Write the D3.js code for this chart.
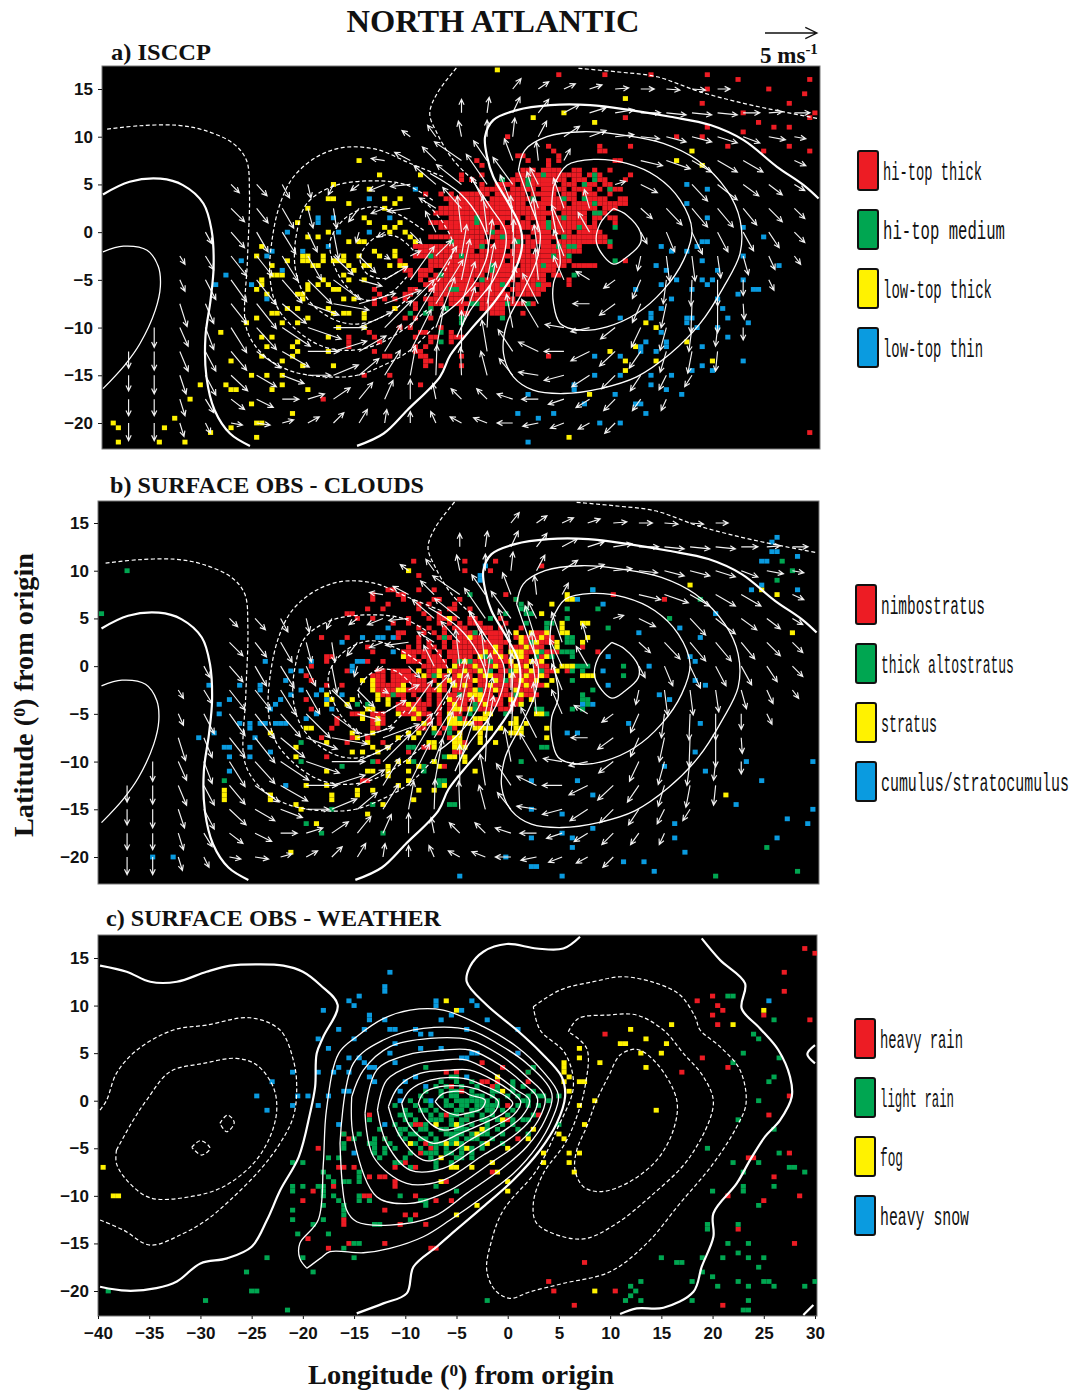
<!DOCTYPE html>
<html>
<head>
<meta charset="utf-8">
<style>
body { margin: 0; background: #fff; }
#chart { display: block; }
.tick-label { font-family: "Liberation Sans", sans-serif; font-weight: bold; font-size: 17px; fill: #111; }
.heading { font-family: "Liberation Serif", serif; font-weight: bold; fill: #111; }
.legend-text { font-family: "Liberation Mono", monospace; font-size: 25px; fill: #111; }
</style>
</head>
<body>
<svg id="chart" width="1075" height="1393"></svg>
<script src="https://d3js.org/d3.v7.min.js"></script>
<script>
// wind: [lat, [lon, u, v], ...]  m/s, tail sits on the grid point
const windRows = [
 [15, [0,.8,1],[2.5,1,.7],[5,1.1,.5],[7.5,1.2,.4],[10,1.3,.1],[12.5,1.3,0],[15,1.3,-.1],[17.5,1.3,-.1],[20,1.2,0]],
 [12.5, [-5,0,1.3],[-2.5,.2,1.5],[0,.7,1.5],[2.5,1,1.3],[5,1.5,.8],[7.5,1.6,.5],[10,1.8,.3],[12.5,1.9,0],[15,1.9,-.2],[17.5,1.9,-.2],[20,1.9,-.2],[22.5,1.6,0],[25,1.3,.1],[27.5,1.5,0]],
 [10, [-10,-.8,.6],[-7.5,-.8,1.1],[-5,-.3,1.5],[-2.5,0,1.6],[0,.2,1.8],[2.5,.8,1.5],[5,1.5,1],[7.5,1.6,.6],[10,1.8,.2],[12.5,1.8,-.2],[15,1.9,-.5],[17.5,1.9,-.5],[20,1.9,-.6],[22.5,1.6,-.6],[25,1.6,-.3],[27.5,1.1,-.2]],
 [7.5, [-12.5,-1.3,.2],[-10,-1.5,.8],[-7.5,-1.3,1.3],[-5,-2.6,1.8],[-2.5,-1.3,1.9],[0,-.8,2.1],[2.5,-.2,1.8],[5,.6,1.1],[12.5,2.1,-.5],[15,2.3,-.8],[17.5,1.9,-1.1],[20,1.9,-1.1],[22.5,1.9,-1.1],[27.5,1.1,-.5]],
 [5, [-27.5,.8,-.8],[-25,1,-1.1],[-22.5,.7,-1.3],[-20,.3,-1.3],[-17.5,-.5,-1],[-15,-.8,-.6],[-12.5,-1.5,-.6],[-10,-1.9,-.2],[-7.5,-2.1,1.8],[-5,-2.4,1.9],[-2.5,-2,2.9],[0,-1.9,2.6],[2.5,-.8,1.6],[10,1,.3],[12.5,1.6,-.8],[17.5,1.5,-1.6],[20,1.9,-1.5],[22.5,1.5,-1.1],[25,1.3,-1],[27.5,1,-.6]],
 [2.5, [-27.5,1.3,-1.3],[-25,1.1,-1.4],[-22.5,1.1,-1.9],[-20,.5,-1.9],[-17.5,.3,-1.9],[-15,-1,-1.3],[-12.5,-1.3,-.5],[-10,-2.2,-.3],[-7.5,-1.6,1],[-5,-1.8,2],[-2.5,-1.5,3],[0,-1.2,3.2],[2.5,-1.1,3.5],[5,-1,2.9],[7.5,-.5,1.8],[12.5,1.1,-1],[15,1.5,-1.6],[17.5,1.5,-1.8],[20,1.5,-1.8],[22.5,1.3,-1.6],[25,1.3,-1.3],[27.5,1,-1]],
 [0, [-30,.6,-1.1],[-27.5,1.3,-1.5],[-25,1.1,-1.9],[-22.5,1.3,-2.1],[-20,.9,-1.9],[-17.5,.5,-2.6],[-15,-.3,-1],[-12.5,-.7,-.5],[-10,1.1,-1.1],[-7.5,-1,2],[-5,-.4,3.5],[-2.5,-.4,3.5],[0,-.2,3.5],[2.5,-.5,3.3],[5,-1.2,2.6],[7.5,-1.1,1.9],[12.5,.6,-1.1],[15,.8,-1.9],[17.5,1,-2.1],[20,1,-1.9],[22.5,1,-1.8],[25,1,-1.5],[27.5,1,-1]],
 [-2.5, [-32.5,.5,-.8],[-30,.8,-1.3],[-27.5,1.5,-1.9],[-25,1.5,-1.9],[-22.5,1.5,-2.4],[-20,1.3,-2.3],[-17.5,1.9,-1.8],[-15,1.6,-1.6],[-12.5,.5,-.3],[-10,1,.5],[-7.5,1.5,1.5],[-5,.5,3],[-2.5,.5,3.5],[0,.1,3.5],[2.5,-.4,3],[5,-1,2.5],[12.5,-.3,-1.4],[15,.3,-2.4],[17.5,.3,-2.4],[20,.3,-2.1],[22.5,.5,-1.8],[25,.6,-1.3],[27.5,.6,-.8]],
 [-5, [-32.5,.5,-1.1],[-30,1,-1.9],[-27.5,1.5,-2.1],[-25,1.9,-2.4],[-22.5,1.9,-2.2],[-20,2.3,-2.3],[-17.5,2.6,-1.9],[-15,2.2,-.6],[-12.5,2.2,1.3],[-10,2.3,3.2],[-7.5,2,3.2],[-5,.8,3.9],[-2.5,.7,3.5],[0,.2,4],[2.5,-.3,3],[5,-1,2.3],[7.5,-1.3,.8],[10,-1.1,-.8],[12.5,-.8,-1.8],[15,-.3,-2.3],[17.5,-.1,-2.5],[20,0,-2.5],[22.5,0,-1.5],[25,.5,-1]],
 [-7.5, [-32.5,.7,-2.2],[-30,.8,-1.9],[-27.5,1.5,-1.9],[-25,1.9,-2.4],[-22.5,2.3,-1.9],[-20,3,-1.1],[-17.5,3.4,-.6],[-15,3.5,1],[-12.5,3.5,1.3],[-10,2.3,2.3],[-7.5,2.6,4.2],[-5,1.3,4],[-2.5,.8,4],[0,.2,3.5],[2.5,-1.5,2.9],[7.5,-1.6,0],[10,-1.5,-1.1],[12.5,-.8,-1.8],[15,-.5,-2.3],[17.5,-.1,-2.8],[20,0,-2.8],[22.5,.1,-1.5]],
 [-10, [-35,0,-1.9],[-32.5,.8,-1.8],[-30,.8,-2.1],[-27.5,1.5,-2.4],[-25,1.9,-2.1],[-22.5,2.7,-1.8],[-20,3.2,-1.1],[-17.5,3.2,0],[-15,3.2,1.5],[-12.5,2.6,2.6],[-10,2.3,3.9],[-7.5,1.8,4.8],[-5,1.3,3.9],[-2.5,.2,4],[0,-.6,3.2],[2.5,-1.6,2.7],[5,-1.8,.3],[7.5,-1.8,-.4],[10,-1.4,-1.1],[12.5,-.9,-1.9],[15,-.6,-2.2],[17.5,-.3,-2.3],[20,-.2,-1.8],[22.5,0,-1.2]],
 [-12.5, [-37.5,0,-1.6],[-35,0,-1.8],[-32.5,.8,-1.9],[-30,1,-1.9],[-27.5,1.5,-1.8],[-25,2.3,-1.6],[-22.5,2.6,-1.5],[-20,3,0],[-17.5,3.2,1],[-15,2.6,1.5],[-12.5,1.6,2.6],[-10,2,4],[-7.5,.8,4.5],[-5,0,3.9],[-2.5,-.5,3],[0,-1.4,2.1],[2.5,-1.9,.9],[5,-1.9,0],[7.5,-1.8,-.9],[10,-1.5,-1.4],[12.5,-1.1,-1.6],[15,-.6,-2],[17.5,-.4,-2.1],[20,-.2,-1.9]],
 [-15, [-37.5,0,-1.5],[-35,0,-1.8],[-32.5,.6,-1.8],[-30,1,-1.9],[-27.5,1.6,-1.5],[-25,1.9,-1.1],[-22.5,2.1,-.8],[-20,2.2,0],[-17.5,2.4,1],[-15,1.9,1.6],[-12.5,1.5,2.4],[-10,.5,2.7],[-7.5,.1,2.9],[-5,-.1,2.7],[-2.5,-.6,2.3],[0,-1.3,1.6],[2.5,-1.9,.3],[5,-1.9,-.5],[7.5,-1.7,-1.1],[10,-1.3,-1.3],[12.5,-1,-1.5],[15,-.7,-1.4],[17.5,-.7,-1.1]],
 [-17.5, [-37.5,0,-1.6],[-35,0,-1.6],[-32.5,.5,-1.6],[-30,.8,-1.3],[-27.5,1.3,-1],[-25,1.6,-.8],[-22.5,1.6,0],[-20,1.6,.5],[-17.5,1.6,1.1],[-15,1.3,1.6],[-12.5,.8,1.8],[-10,0,1.9],[-7.5,-.3,1.5],[-5,-1,1],[-2.5,-1,1],[0,-1.5,.5],[2.5,-1.6,0],[5,-1.5,-.5],[7.5,-1.3,-.8],[10,-1.1,-1.1],[12.5,-.8,-1.1],[15,-.5,-1.1]],
 [-20, [-37.5,0,-1.7],[-35,0,-1.7],[-32.5,.4,-1.3],[-30,.5,-1],[-27.5,1.1,-.2],[-25,1.3,-.2],[-22.5,1.1,.3],[-20,1.1,.6],[-17.5,1,1],[-15,.8,1.3],[-12.5,.2,1.3],[-10,0,1.1],[-7.5,-.5,1.1],[-5,-1.1,.6],[-2.5,-1.3,.5],[0,-1.5,0],[2.5,-1.5,-.3],[5,-1.3,-.5],[7.5,-1.1,-.6],[10,-1,-1]]
];

// contours for a) and b): [lon, lat]
const upperThick = [
 [[-40,3.95],[-37.4,5.28],[-34.4,5.6],[-32.2,4.93],[-30.2,3],[-29.4,.2],[-29.2,-3.63],[-29.5,-7.13],[-30,-10.97],[-29.9,-15.16],[-29.1,-18.66],[-27.6,-21.1],[-25.65,-22.4]],
 [[-15.2,-22.4],[-12.6,-21.1],[-10.3,-18.66],[-7.1,-15.16],[-6.1,-12.9],[-4.15,-10.27],[-1.9,-7.48],[.07,-4.33],[.9,-1.54],[.73,.56],[-.4,3],[-1.9,5.8],[-2.5,7.9],[-2.7,10],[-1.9,11.74],[.4,12.79],[3.66,13.31],[7.56,13.31],[11.47,12.79],[15.4,12.09],[19.3,11.22],[22.54,9.64],[25.8,6.85],[28.4,4.93],[29.86,3.53]]
];
const upperThin = [
 [[-40,-2.06],[-38,-1.47],[-35.7,-1.9],[-34.6,-3.6],[-34.4,-5.7],[-34.9,-8.2],[-36.4,-11.7],[-37.85,-13.9],[-40,-16.4]],
 [[.56,6.5],[1.2,8.6],[3.33,10],[6.9,10.52],[10.8,10.17],[14.7,9.3],[18,7.55],[20.9,4.4],[22.2,1.26],[22.2,-2.2],[20.6,-5.73],[18.3,-9.57],[15.4,-12.72],[12.1,-15.16],[8.54,-16.39],[4.96,-16.91],[2,-16.56],[.07,-15.16],[-.9,-12.72],[-.57,-9.57],[1.05,-6.08],[2.35,-2.93],[2.68,-.14],[1.7,3],[.56,6.5]],
 [[3.98,4.75],[5.3,7],[7.9,7.62],[11.14,7.2],[14.07,5.8],[16.35,3.35],[17.5,.2],[16.68,-2.93],[14.7,-6.08],[12.1,-8.53],[9.2,-9.92],[6.6,-10.27],[4.63,-9.57],[3.98,-7.48],[3.98,-5.38],[4.63,-3.28],[4.3,-.49],[3.82,2.66],[3.98,4.75]],
 [[9.84,2.48],[8.54,.91],[8.2,-1.19],[9.84,-3.35],[11.14,-2.6],[12.45,-1.19],[12.45,.03],[11.14,1.78],[9.84,2.48]],
 [[-8.06,6.15],[-5.13,4.05],[-3.18,1.26],[-2.37,-1.54],[-3.18,-4.33],[-5.13,-7.13],[-7.1,-8.9]],
 [[-4.15,5.8],[-2.2,2.66],[-.74,.2],[-.74,-1.9],[-1.88,-5],[-4.15,-8.2],[-5.46,-11]]
];
const upperDashed = [
 [[-39.6,10.8],[-36.4,11.15],[-32.8,11.2],[-30.2,10.7],[-27.3,9.3],[-26,7.55],[-25.7,4.05],[-25.9,-2.93],[-26.1,-9.57],[-25.3,-11.67],[-23.7,-13.42],[-21.4,-14.64],[-18.2,-15.16],[-15.2,-15],[-12.6,-13.94],[-10,-12.37],[-7.7,-9.92]],
 [[-5.5,17.2],[-7.4,14.5],[-8.1,12.4],[-7.4,10.4],[-5.8,7.55],[-3.5,5.1]],
 [[6.42,17.16],[10.17,16.8],[14.07,16.28],[18.3,14.7],[22.54,13.5],[26.44,12.6],[29.86,11.9]],
 [[-6.8,5.8],[-10,7.2],[-13.3,8.67],[-16.5,8.88],[-19.1,7.9],[-21.4,5.8],[-22.7,3],[-23.5,-.84],[-23.7,-4.68],[-23,-7.83],[-21.1,-10.27],[-18.5,-12],[-15.6,-12.37],[-13,-11.67],[-10.3,-9.92],[-8.4,-8.18]],
 [[-7.8,3.35],[-10.35,4.93],[-13.6,5.38],[-17.5,4.82],[-20.1,3],[-21.1,-.14],[-21.25,-3.63],[-20.4,-6.43],[-18.5,-8.53],[-16.2,-9.57],[-13.9,-9.4],[-11.65,-8.18],[-9.7,-6.43]],
 [[-8.7,.2],[-11,1.78],[-13.6,2.66],[-16.2,1.6],[-17.8,-.84],[-17.5,-3.28],[-16.2,-5.73],[-14.3,-7.13],[-12,-6.43],[-10.35,-4.68]],
 [[-9.7,-1.9],[-11.3,-.49],[-13.3,-.49],[-14.9,-2.6],[-14.25,-4.33],[-12.6,-4.86],[-11,-4]],
 [[-8.7,3.35],[-6.76,.9],[-5.8,-1.54],[-6.76,-4.33],[-8.7,-6.78]]
];

// contours for c)
const weatherThick = [
 [[-39.8,14.2],[-37.2,13.56],[-34.9,12.5],[-32.3,12.5],[-29.4,13.56],[-27.1,14.2],[-24.5,14.33],[-21.9,14.2],[-20,13.56],[-18.3,12.16],[-16.6,10.06],[-18,6.73],[-18.65,4.97],[-18.8,1.47],[-19.3,-1.33],[-20.4,-5.9],[-22.2,-9.39],[-23.5,-12.54],[-25,-15.35],[-27.4,-16.57],[-30,-17.1],[-32.3,-19],[-34.3,-19.7],[-37.2,-19.97],[-39.8,-19.55]],
 [[7.06,17.24],[5.43,16],[2.83,16],[-.1,16.47],[-2.38,15.66],[-3.68,14.1],[-4,12.5],[-2.05,10.06],[.88,7.43],[3.16,5.15],[5.27,2.52],[5.6,.42],[4.78,-2.38],[3.16,-5.18],[.55,-8.34],[-2.38,-11.14],[-5.63,-14.12],[-6.93,-15.35],[-9.2,-17.45],[-9.86,-20.25],[-12.14,-21.3],[-14.74,-22.35]],
 [[18.94,17.06],[20.73,14.79],[23.17,12.33],[22.84,9.71],[24.63,7.6],[26.42,5.33],[27.56,2.52],[27.73,.42],[26.59,-2.03],[25.12,-3.78],[23.66,-6.24],[22.36,-8.69],[20.08,-11.84],[20.08,-14.3],[18.94,-17.45],[18.13,-20.08],[15.2,-21.76],[12.6,-21.83],[10.97,-22.42]],
 [[30,5.85],[29.25,4.9],[30,3.92]],
 [[28.86,-22.53],[29.84,-21.48]]
];
const weatherThin = [
 [[-19.6,-17.62],[-20.3,-16.57],[-20.3,-15],[-18.5,-12.54],[-18,-6.6],[-17.7,-.98],[-16.5,4.97],[-14.75,6.73],[-12.1,8.65],[-9.54,9.53],[-6.3,9.53],[-2.38,7.78],[.88,5.68],[3.32,3.22],[4.95,.6],[4.3,-2.03],[2.83,-4.84],[.55,-7.64],[-2.38,-10.09],[-5.63,-12.54],[-8.24,-14.3],[-11.5,-15.52],[-14.1,-15.98],[-17.35,-15.87],[-18.3,-16.57],[-19.6,-17.62]],
 [[-16.37,-4.48],[-15.07,3.92],[-12.14,6.38],[-8.23,7.6],[-3.68,7.43],[-.75,5.85],[1.86,3.92],[4.3,.77],[3.64,-2.03],[1.86,-4.84],[-.75,-7.29],[-4,-9.74],[-7.26,-12.19],[-11.49,-13.07],[-14.74,-12.72],[-15.72,-11.49],[-16.37,-4.48]],
 [[-15.23,.42],[-15.07,-3.78],[-12.79,-10.09],[-9.53,-10.79],[-5.63,-9.39],[-1.72,-6.59],[1.04,-4.48],[3,-2.03],[3.64,.42],[1.86,2.52],[-.75,4.8],[-3.68,6.38],[-7.58,6.55],[-11.49,5.68],[-14.09,3.22],[-15.23,.42]],
 [[-13.93,-1.33],[-13.11,-5.89],[-9.86,-8.69],[-6.28,-8.34],[-2.38,-5.71],[.23,-3.96],[2.18,-2.03],[2.9,.25],[1.53,1.82],[-.75,3.75],[-3.68,5.33],[-6.28,5.33],[-9.86,4.8],[-12.79,3.22],[-13.93,-1.33]],
 [[-12.72,-.98],[-11.81,-4.48],[-9.53,-7.29],[-6.28,-7.11],[-3.35,-5.19],[-.75,-3.43],[1.37,-1.68],[2.12,.07],[.88,1.12],[-1.4,2.87],[-4,4.27],[-6.28,4.27],[-9.21,3.75],[-11.81,2.17],[-12.72,-.98]],
 [[-11.65,-.63],[-10.51,-3.78],[-8.23,-6.24],[-6.28,-5.89],[-3.68,-4.13],[-1.4,-2.73],[.55,-1.51],[1.27,-.1],[.55,.77],[-1.4,2.17],[-3.68,3.22],[-5.63,3.22],[-8.56,2.87],[-10.67,1.47],[-11.65,-.63]],
 [[-10.35,-.28],[-9.53,-2.73],[-7.26,-4.48],[-4.65,-3.43],[-2.38,-2.38],[-.42,-1.33],[.49,-.28],[-.1,.42],[-2.05,1.47],[-4.33,2.35],[-7.58,2.17],[-9.53,1.12],[-10.35,-.28]],
 [[-8.72,-.28],[-7.91,-2.03],[-6.28,-3.08],[-3.35,-2.21],[-1.4,-1.33],[-.91,-.1],[-2.05,.77],[-4,1.47],[-6.61,1.47],[-8.23,.77],[-8.72,-.28]],
 [[-7.09,-.1],[-6.28,-.98],[-4.98,-1.51],[-4,-1.33],[-2.54,-.81],[-2.21,.07],[-3.68,.6],[-4.33,.95],[-6.28,.77],[-7.09,-.1]]
];
const weatherDashed = [
 [[-39.8,-.98],[-39.15,.07],[-38.2,2.87],[-36.2,5.33],[-32.65,7.43],[-29.4,7.95],[-25.16,8.72],[-22.23,7.43],[-20.93,4.27],[-20.6,1.47],[-20.93,-1.68],[-22.23,-4.48],[-24.2,-7.29],[-27.1,-10.44],[-29.4,-12.54],[-31.67,-13.95],[-34.92,-15.17],[-37.5,-13.6],[-39.8,-12.54]],
 [[-38.2,-5.19],[-36.55,-2.03],[-35.25,.07],[-32.97,3.05],[-29.7,3.92],[-26.46,4.45],[-24.5,3.75],[-22.9,1.47],[-22.55,-.98],[-23.2,-3.78],[-24.83,-6.59],[-27.76,-9.04],[-31,-10.09],[-34.92,-10.2],[-37.2,-8.34],[-38.2,-6.59],[-38.2,-5.19]],
 [[-30.85,-4.9],[-30,-4.2],[-29.06,-5],[-29.88,-5.71],[-30.85,-4.9]],
 [[-28.1,-2.38],[-27.37,-1.51],[-26.7,-2.3],[-27.44,-3.26],[-28.1,-2.38]],
 [[2.5,9.88],[5.11,11.63],[8.36,12.51],[11.29,13.03],[14.55,12.33],[16.82,11.11],[18.29,8.83],[18.78,7.43],[20.73,5.68],[22.68,3.22],[23.27,-.28],[22.36,-2.73],[20.08,-6.59],[16.82,-10.79],[13.57,-15],[9.99,-17.98],[5.43,-19.2],[2.18,-20.08],[.23,-20.78],[-1.24,-19.9],[-2.05,-17.8],[-1.56,-14.65],[-.42,-11.49],[2.83,-7.29],[4.78,-3.08],[6.41,1.47],[5.6,4.98],[3.16,7.43],[2.5,9.88]],
 [[5.92,7.25],[6.9,8.65],[9.67,9],[12.6,9],[15.2,7.43],[17.15,4.98],[19.1,2.52],[20.08,-.28],[17.8,-5.89],[13.9,-10.09],[10.64,-12.89],[7.71,-14.47],[5.43,-14.3],[2.83,-12.89],[2.5,-10.79],[3.48,-7.64],[5.6,-4.48],[6.74,-1.68],[7.55,1.47],[7.71,5.5],[5.92,7.25]],
 [[9.99,2.87],[10.97,4.8],[12.6,5.4],[14.55,3.92],[16.5,.07],[16.17,-3.08],[14.55,-6.24],[11.62,-8.69],[9.01,-9.56],[7.39,-9.04],[6.57,-7.29],[6.74,-5.19],[7.71,-2.73],[8.69,.07],[9.99,2.87]]
];

// cloud/weather cells: [lat, lon or [fromLon, toLon], ...]  on a half degree grid
const isccpRed = [
 [16.5,4.5,9,13.5,19],[16,22,29],[15,19,25],[14.5,28.5],[13.5,18.5,27],[12.5,22.5,29.5],[12,11,29],[11.5,24],[11,19,25.5,27],[10.5,22.5],[10,-.5,16,18.5],
 [9,3.5,8.5,11.5,21,27],[8.5,4,8.5,9,24.5,29],[8,.5,1,4.5],[7.5,1.5,3.5,4.5,10,10.5,-3.5],[7,3.5,-3],[6.5,[1,2],[3,4.5],[6,6.5],8,9.5],
 [6,[.5,5],[5.5,6.5],7.5,8.5,11.5,-5,-3],[5.5,[0,1],[2,5],[6,7],[8.5,9],11,-5,-4],[5,[-1.5,0],[1,4],[5,6],[7,8],[9,9.5],-3],
 [4.5,[-3,-1],[0,2],[3,5],[6,7.5],8.5,[9.5,10.5]],[4,-8.5,-7,-6,-5,[-4.5,-2.5],[-1.5,1],[2,4],[5,6],[7,8],9.5],[3.5,[-6.5,-3],[-2,2],[3,6],[7,9],[10.5,11]],
 [3,[-6,-4],[-3.5,1],[2,5],[6,7.5],[8.5,9.5],[10,11]],[2.5,[-7,-6.5],[-6,-2.5],[-2,0],[.5,3],[4,6],[6.5,8],[9,10]],[2,[-7.5,-6.5],[-6,-3],[-2.5,1],[1.5,4],[5,7],[8,9]],
 [1.5,[-6,-2],[-1.5,.5],[1.5,3],[4,6],[6.5,7],[8,8.5],[9.5,10]],[1,[-8,-7.5],[-7,-3.5],[-3,-1],[0,1.5],[2.5,5],[5.5,7],8,10],[.5,[-7,-2],[-1,1],[1.5,3],[3.5,6],[7,8]],
 [0,[-6,-4],[-3.5,-1.5],[-1,.5],[2,3.5],[4.5,5.5],[6.5,8.5]],[-.5,[-8,-7.5],[-7,-3],[-2,0],[.5,1.5],[2.5,4],[5,6.5],[7,9]],[-1,[-6,-4.5],[-4,-2.5],[-1.5,.5],[1.5,3.5],[4.5,7],[7.5,9]],
 [-1.5,[-9.5,-8],[-7.5,-3],[-2,-.5],[.5,2],[3,4.5],[5,6.5],9.5],[-2,[-9,-7],[-6.5,-4],[-3,-1],[0,1.5],[2.5,5],[5.5,6.5]],[-2.5,[-9.5,-8.5],[-7.5,-2],[-1.5,.5],[1,3],[3.5,5]],
 [-3,-11,[-8,-7],[-6.5,-4.5],[-4,-1],[0,1.5],[2,4],[4.5,5.5],11],[-3.5,[-11,-10.5],[-8,-3],[-2.5,0],[1,3],[3.5,5],[6,7.5],8],[-4,[-10.5,-10],[-9,-8],[-6.5,-4],[-3.5,-1.5],[-1,1],[1.5,4]],
 [-4.5,-10,[-9,-8.5],[-7.5,-3],[-2,.5],[1,3],[4,4.5]],[-5,-9,[-8,-4],[-3,0],[1,2],[2.5,3],5.5],[-5.5,[-8.5,-7],[-6.5,-3.5],[-3,-.5],[.5,2],[3,3.5],5.5],
 [-6,-13.5,[-10,-9.5],[-8,-6.5],[-6,-4],[-3,-1],[0,1.5],[2,3]],[-6.5,-13,[-10.5,-10],[-7.5,-3.5],[-3,-.5],[.5,1.5],[2,2.5]],[-7,-13.5,-12.5,-11.5,-10.5,[-8.5,-7],[-6,-5],[-4,-1],[-.5,0]],
 [-7.5,-13.5,-9.5,[-8,-7],[-6,-4],[-3,-1],[0,.5],[1,2]],[-8,-11.5,-9.5,-8,-5,[-3,-1]],[-8.5,[-5,-4.5],[-2,-1],1],[-9,-10.5,-9.5,-8],[-10,-11,-10,-7],
 [-10.5,-14,-9,-8.5,-6],[-11,-16,-13.5,-9.5,[-8,-7.5],[-6,-5]],[-11.5,-16,-13,-8,-6],[-12,-16,-9.5,-8.5],[-12.5,-13.5,-9.5,-9],[-13,[-12.5,-12],-9,-8.5,-5,3.5],[-13.5,-8.5,-8],[-14,-8.5,-7,-5],
 [-15,-14.5,-12],[-16,-9],[-17.5,-18.5],[-21,29]
];
const isccpGreen = [
 [6,3,8],[5.5,-1,1.5,8],[5,1.5,7],[4.5,9.5],[3.5,2,5,7],[3,8],[2,8,8.5],[1.5,-3.5,5],[1,-3.5,3.5],[.5,3.5,6.5,10],[0,-2],[-.5,-1,5],[-1,-6,.5,9.5],[-1.5,-3,4.5,5.5,6],
 [-2.5,-8,-5,4,5.5],[-3,10],[-3.5,-2,3],[-4,-2],[-4.5,-7,6],[-5,-3],[-5.5,-1,2.5],[-6,-6,-5.5],[-7.5,-4,-3.5,-.5,1.5],[-8,-8,-6.5],[-8.5,-10,-8.5],[-9,-5,-1],[-9.5,-5],[-10.5,-7],[-11.5,-7]
];
const isccpYellow = [
 [17,-1.5],[14,11],[12.5,5],[12,2],[11.5,8],[8.5,17.5],[7.5,-15,16],[7,18.5],[6,-13,-9],[5,-17.5],[4.5,-14],[3.5,-18,-17.5,-12.5,-11],[3,-16,-11.5],[2.5,-12.5,-20],[1.5,-14.5],[1,-21,-14,-11],
 [.5,-12.5,-11.5],[0,-12,-18,-10.5],[-.5,-19,-20,-10],[-1,-9.5,-16,-15,-14.5],[-1.5,-24.5],[-2,-13.5,-11.5],[-2.5,-25,-20.5,-20,-18.5,-16.5,-15,-13,-11.5],[-3,-22,-20.5,-20,-18.5,-17.5,-17,-16.5],
 [-3.5,-23.5,-19.5,-19,-16,-14.5,-14,-12,-11,-10.5],[-4,-15.5],[-4.5,-23.5,-23,-22.5,-16.5],[-5,-24.5,-18.5,-16,-14.5],[-5.5,-24.5,-20,-19,-18],[-6,-25,-20,-17.5,-17],[-6.5,-24,-20.5,-21],[-7,-20.5,-16.5,-15.5],
 [-8,-22,-21,-18,-11.5],[-8.5,-23.5,-23,-17.5,-16.5,-16,-14.5],[-9,-14.5,-25,-20],[-9.5,-26,-22.5,-21,13],[-10,-14.5,-17,14],[-10.5,-28.5],[-11,-23.5,-24.5,-18],[-11.5,-21,17],[-12,-21.5,-24,12],[-12.5,-18,-21,9.5],
 [-13,-24.5,-21.5],[-13.5,-27.5,-22.5,14,11,19.5],[-14,-20.5,-17.5],[-14.5,11],[-15,-25.5,-24,-22.5],[-16,-30.5,-28,-22.5],[-16.5,-27.5,-27,-23.5,-20],[-17,7.5],[-17.5,-31.5],[-18,-25.5],[-19,-21.5],[-19.5,-33],
 [-20,-39,-25,-24.5],[-20.5,-38.5,-34,-27.5],[-21,-29.5],[-21.5,-25,5.5],[-22,-38.5,-34.5,-32]
];
const isccpBlue = [
 [5,17],[4.5,-9.5,19],[3.5,-14],[3,17],[1.5,-12,-19,-17.5,19],[1,-19],[.5,22.5],[0,-22,-17,-14],[-.5,24.5],[-1,18.5,19],[-1.5,-18,14.5,18],[-2,-20.5,-23.5,15.5,17],[-2.5,-24,22.5],[-3,-26.5,18.5],[-3.5,26,14],
 [-4,-22.5,20,15],[-4.5,-28],[-5,16,18.5,19.5,22.5],[-5.5,-29,-25.5,14.5,19],[-6,12,17.5,23.5,24],[-6.5,22],[-7,-24,15.5,20],[-8,14.5,20.5],[-8.5,13.5],[-9,13.5,17,17.5,21,10.5],[-9.5,17,23],[-10,20,18],
 [-10.5,14.5],[-11,21],[-11.5,15,13],[-12,15,12.5,18.5],[-12.5,14,12.5],[-13,10.5,8],[-13.5,22.5],[-14,18.5],[-14.5,17.5,19.5],[-15,10.5,8,15.5,13.5],[-16,13.5,6],[-16.5,15,6],[-17,16.5,10,1.5],[-18,7,12,12.5],
 [-19,.5,4,13],[-19.5,2.5],[-20,8.5,10.5],[-22,1.5]
];

const cloudRed = [
 // west of about -6
 [11,-9.5],[9.5,-9],[8,-12,-11.5,-9,-7.5],[7.5,-13.5,-11,-10.5],[7,-13.5,-10.5,-7.5,-7],[6.5,-12,-9,-8],[6,-14,-12.5,-9,-6],[5.5,-16,-15.5,-8.5,-7],[5,-15,-13.5,-10,-8,-7,-6.5],[4.5,-11.5,-10,-7,-6],[4,-9,-8,-6.5],
 [3.5,-11,-10.5,-8.5,-7.5,-6.5],[3,-18.5,-16,-11,-9,-7,-6],[2.5,-9,-8,-6.5],[2,-14,-10,-9,[-8,-7.5],-6.5],[1.5,-13.5,[-10.5,-8],-7,-6],[1,-18,-17.5,[-10,-9.5],[-8.5,-7],-6],[.5,-18,-14,-12.5,-10,-9.5,-9,[-8,-7],-6.5],[0,-19.5,[-8.5,-7],-6.5],
 [-.5,-16,[-13,-12.5],[-11.5,-10],-9,[-8,-7],-6],[-1,-20,[-13.5,-12.5],[-11.5,-9.5],-8,[-7.5,-6.5]],[-1.5,-19.5,[-13.5,-12.5],[-11.5,-10],[-9.5,-8.5],-7.5,-6.5],[-2,-18,-16.5,[-13.5,-11.5],[-11,-10.5],[-9.5,-8],-6.5],[-2.5,[-13,-12.5],[-12,-11.5],[-10,-9.5],[-9,-7.5],-6.5],
 [-3,-12.5,[-12,-10.5],-9.5,-8,-7,-6],[-3.5,-20,-10.5,-9,-8,-7,-6],[-4,[-11,-8],-7,-6],[-4.5,-19.5,[-11,-8.5],-7,-6],[-5,-15.5,-15,-13.5,-13,-12.5,[-10.5,-8],-7,-6],[-5.5,-17,-13.5,-13,-12.5,-9,-8,-7,-6],[-6,-17,-13.5,-12.5,-8,-7],[-6.5,-17.5,-13.5,-13,-9,-8.5,-6.5],[-7,-7,-6],[-7.5,-18.5,-15.5,-14,-6],[-8,-16,-12.5],[-8.5,-8.5,-8],[-9,-10],[-9.5,-18],[-10,-13],[-10.5,-8.5,-6.5],[-12,-14.5,-14],
 // east of it
 [11,-4.5,-1.5],[10.5,3],[10,-4.5,-2],[7.5,-.5,10],[7,-5,.5,15],[6.5,-5.5],[6,-5.5,-4],[5,-5.5,-4,-3.5,-1],[4.5,-5,[-4,-3],-.5],[4,-5.5,[-5,-4.5],[-3,-2],-1,1],[3.5,[-5,-3.5],[-2.5,-1],.5,[2.5,3.5]],[3,[-5,-3],[-2,-1],[.5,1.5],[2,4]],[2.5,-5.5,[-5,-3.5],[-3,-1.5],[-1,-.5],[1,2],[3,4]],[2,[-5.5,-4],[-3.5,-1],[0,1],[2,3],7],
 [1.5,[-5.5,-3],[-2.5,-1],[1,2.5],[3,4.5],8.5],[1,[-5.5,-4],[-3,-.5],[.5,1.5],[2.5,3.5]],[.5,[-5.5,-4.5],[-4,-2.5],[-2,0],[1,3]],[0,[-5.5,-3.5],[-3,-1],[0,1.5],[2.5,3.5]],[-.5,[-5.5,-5],[-4,-2],[-1,.5],[1,2.5],[3,4],5.5],[-1,[-5.5,-4],[-3,-1],[0,1],[2,3.5]],[-1.5,[-5.5,-4.5],[-4,-2.5],[-1.5,0],[.5,2.5]],[-2,[-5.5,-4],[-3,-1],[-.5,1],[1.5,3]],
 [-2.5,[-5.5,-3],[-2.5,-.5],[.5,2]],[-3,[-5.5,-4.5],[-4,-2],[-1,.5],[1.5,2.5]],[-3.5,[-5.5,-3.5],[-3,-1],[0,1]],[-4,[-5.5,-4.5],[-3.5,-1],[0,.5]],[-4.5,[-5.5,-4],[-3,-2],[-1,0]],[-5,[-5.5,-5]],[-5.5,[-5.5,-4.5],[-3,-2.5]],[-6,[-5.5,-5],[-3.5,-3]],[-6.5,-5.5],[-7,-5,-3,.5],[-8,-5.5,-5,-4.5],[-9,-5.5,-5]
];
const cloudGreen = [
 [11,26.5],[10,-37.5,27.5],[9,26],[8,8],[7.5,-4],[7,18.5,.5],[6.5,1],[6,1,1.5,5.5,8.5],[5.5,-40,-.5,1.5,2],[5,-2,5.5,15.5],[4.5,1.5,3.5,4],[4,3.5,9.5],[3.5,-3.5],[3,-6.5,5.5,6],[2.5,2,5.5,6],[2,4.5],[1.5,3,5,5.5,6],[1,2.5,4,6,-2.5],[.5,-4,-5,-2],[0,6,6.5,7,7.5,11,-5.5],
 [-.5,-3,-2,0,3,6,7],[-1,-7.5,11],[-1.5,-1.5,-.5,6],[-2.5,-3,8],[-3,-11.5,-5,.5,7],[-3.5,7,7.5],[-4,-15,-14,1,-3.5,7.5],[-4.5,-3.5,6,7,2.5,3],[-5,-4,-.5,3,3.5],[-5.5,-5],[-6.5,-6,-2,1],[-7,-7.5,-6],[-8,-20.5],[-8.5,-9.5,-10,3,3.5],[-9.5,-6.5,-6],[-10,-20.5,-7.5,-13.5,-9.5,1],[-10.5,-16.5,-8.5],[-11,-8.5],[-12,-28,-7,-6.5],[-12.5,-7],[-14.5,-13.5,-6,-5.5],[-15,-17.5],[-16.5,-20],[-17.5,-18.5,-12.5],[-19,25],[-21.5,28],[-22,20]
];
const cloudYellow = [
 // west
 [10,-10],[5,-6],[1,-10.5],[-.5,-9,-7],[-1,-8.5,-7],[-1.5,-14.5,-13.5],[-2,-13.5,-10.5,-7],[-2.5,-13.5,-11,-10.5,-7],[-3,-18,-13],[-3.5,-17.5,-15.5,-13,-12],[-4,-18,-16,-12,-10],[-4.5,-14,-13.5,-9.5],[-5,-14.5,-11,-9],[-5.5,-14.5,-13,-9.5],[-6,-13,-8.5],[-6.5,-20,-19.5,-7.5],
 [-7,-23.5,-15.5,-13.5,-10,-9],[-7.5,-15,-11,-9.5],[-8,-18,-14,-8,-7.5],[-8.5,-21,-13.5,-12,-7.5],[-9,-15.5,-14.5,-13],[-9.5,-21],[-10,-11,-10,-7.5],[-10.5,-12,-9,-7],[-11,-18,-14,-13.5,-12,-10],[-11.5,-12],[-12,-10],[-12.5,-20,-18,-11,-6.5],[-13,-28,-15,-13.5,-9,-7.5],[-13.5,-28,-23.5,-17.5,-15],[-14,-28,-23.5,-17.5,-9.5],[-14.5,-21,-12.5],[-15,-20.5],[-15.5,-14],[-16.5,-19],[-19.5,-21.5],
 // east
 [8.5,17.5],[8,24.5],[7.5,5.5,26],[7,5.5,6],[6.5,4],[5.5,3],[4.5,5,7,7.5],[4,5],[3.5,.5,2,3.5,5,5.5,27.5],[3,-4,1,3,7.5],[2.5,1,2.5,4.5,7],[2,-1.5,1.5,4.5],[1.5,-2.5,-1.5,[0,.5],1,2.5],[1,-3,-1,[.5,1],3.5],[.5,-4.5,0,2,3],[0,-5.5,-3.5,-1.5,.5,1.5,[5,6]],[-.5,-6,-4.5,-3,.5,2,4.5],[-1,-5,[-2.5,-2],0,1.5,3,[7,8]],
 [-1.5,-6,-3.5,-1.5,1,2.5,4],[-2,-5.5,-4.5,-2,1.5,3.5],[-2.5,-3.5,-1.5,.5],[-3,[-4,-3],1],[-3.5,-6,-3,0,2],[-4,-5.5,-2.5,1],[-4.5,[-5.5,-5],-4],[-5,-6,[-2.5,-2],[2.5,3]],[-5.5,[-6,-5.5],[-3.5,-2.5],.5],[-6,[-6,-5],[-4.5,-4],[0,.5],1.5],[-6.5,-3.5,[-3,-2],-1,[.5,1],3.5],[-7,-5,-3,[0,1]],[-7.5,-5.5,-5,-3,3.5],[-8,-5.5,-5,-3,-1.5],[-8.5,-5.5,-5,-4.5],[-9.5,-4.5,-6,-5.5],[-10,-4.5],[-11,-3.5],[-13.5,21]
];
const cloudBlue = [
 [13.5,26],[13,25.5],[12,26,25.5],[11.5,28],[11,24.5,25],[10.5,-2.5],[9.5,-3],[9,-3],[8.5,24.5],[8,8,23.5,28],[7,6.5],[6.5,9],[5.5,20],[4,-12,16.5],[3.5,12.5],[3,-14.5,-13,-12.5,-11.5,18.5],[2.5,-16.5],[1.5,-11.5],[1,17.5,9.5],[.5,-24,-19.5,-15,-14.5,18],
 [0,-15.5,13.5],[-.5,-21.5,-20.5,-15.5,9],[-1.5,-22,18],[-2,-29.5,-26.5,-24.5,19,9.5],[-2.5,-24.5,-20.5,-18.5],[-3,-21.5,-19,-16.5,14.5],[-3.5,-27.5,-22.5,-18,15.5],[-4,-28.5,-23,7,8],[-4.5,-23.5,-17.5],[-5,-28.5,-19],[-5.5,-20],
 [-6,-26.5,-25.5,-24.5,-24,-23,-22.5,-22,11.5,18.5],[-6.5,-25.5],[-7,-29,5.5,6.5],[-7.5,-30.5,-25],[-8.5,-28,-27.5,-25.5],[-9,-23.5,18],[-9.5,-27.5,-25.5],[-10,23,29.5],[-10.5,15],[-11,-27.5,19],[-12,2,6.5,24.5],[-12.5,-22],[-13.5,8],[-14.5,22],[-15,2,29.5],[-15.5,5],
 [-16,27],[-16.5,29,16],[-17,8],[-17.5,5],[-18,2,6,16,26],[-19,6],[-19.5,17],[-20,-35,-33,-.5],[-20.5,11,13],[-21,2,2.5],[-21.5,14],[-22,-5,5]
];

const weatherRed = [
 [16,29],[15.5,30],[13.5,27],[11.5,27],[11,20],[10.5,18.5],[10,20.5],[9.5,21],[9,20,25],[8.5,29.5],[8,20.5],[7,9.5],[5,1],[4.5,19],[4,-2.5],[3.5,-.5,21.5],[3,-6,-5,17,2],[2,-2,-2.5,-1,2],[1.5,-5.5,-1.5],[1,-4.5],[.5,27.5],[-.5,0],
 [-1,-1.5],[-1.5,-13.5,-6,-4,25.5,3],[-2,-4,0],[-2.5,-9,-8.5],[-3,-6],[-3.5,-16,-3.5],[-4,-15.5,-12,-5,1],[-4.5,-8],[-5,-18.5,-7.5,-4],[-5.5,-8.5,27.5],[-6,-5,23.5,24],[-6.5,-10],[-7,-16.5,-16,-15,-11,-9],[-7.5,-1.5],[-8,-13.5,-12.5,-12,26],[-8.5,-11,-6],
 [-9,-17,-11],[-9.5,-19],[-10,-14,-13.5,-9,21.5,28.5],[-10.5,-20,-7,-5.5,25],[-11.5,-12],[-12,-10,-9],[-12.5,-16],[-13,-16,-10.5,-8],[-13.5,22.5],[-14.5,-19.5],[-15,-15.5,-12,28],[-15.5,-17.5,-7.5,-7],[-17,7.5],[-19,4],[-20,4.5,10.5],[-21.5,6.5,21]
];
const weatherGreen = [
 [11,21.5,22],[8.5,26],[7,24],[6.5,24.5],[5,23],[4.5,26.5],[4,22],[3.5,2.5,-8],[3,2],[2.5,[-5.5,-5],26],[2,-6.5,-5,-3.5,.5,25.5],[1.5,-7,-6,-4.5,-3,-1,.5,1.5],[1,-8,-6.5,[-5.5,-5],-3.5,[-1.5,-1],.5,2.5],[.5,-8.5,-6.5,[-5.5,-5],[-3.5,-3],-2.5,-1.5,0,1,2,3,3.5,5],
 [0,-9.5,-8,-6,[-5,-4],[-3.5,-2],-1,[1.5,2],4,24.5],[-.5,-11,-9,-7.5,[-6,-5.5],[-4.5,-4],[-3,-2],[-1.5,-1],1,2,3],[-1,-10,[-8.5,-8],-7,[-5,-4.5],[-3.5,-3],[-2,-1.5],-.5,.5],[-1.5,[-10.5,-9.5],-7.5,-6.5,[-5.5,-5],[-4,-3.5],-2.5,-1.5,0,2.5],
 [-2,-13.5,-10,-9,[-7.5,-6.5],-5.5,[-4.5,-4],[-2.5,-2],-1,[1.5,2],.5,22.5],[-2.5,-11,-9.5,-8,-7,[-5.5,-4.5],-3.5,-2,.5,5,-.5],[-3,-12.5,[-10.5,-10],[-8.5,-8],[-6.5,-6],[-5,-4],[-2.5,-2],-1,1,26],[-3.5,-16,-14.5,-10.5,[-9.5,-9],-7.5,[-6,-4.5],[-3.5,-3],-2,-.5,2,-2.5],
 [-4,-15,-13,-12,-10,[-8.5,-8],-7,[-5.5,-5],[-4,-3],-1.5],[-4.5,-16,-13.5,-13,-11.5,[-9.5,-9],[-7.5,-6.5],[-6,-4.5],-2.5,-.5],[-5,-16,-13,-12,-11,-8.5,-7,-6,[-4.5,-3.5],-2.5,19.5],[-5.5,-13,-12,-9.5,[-8,-7],[-6,-5.5],-4.5,-3.5,26.5],
 [-6,-17.5,-16.5,-12.5,-10,-7.5,-5,-4.5,-3.5],[-6.5,-21,-20,-11,-10.5,-7,-5.5,24.5,22],[-7,-9.5,-7,27.5,28],[-7.5,-18,-14.5,23,29],[-8,-17.5,-14.5],[-8.5,-17,-16,-15.5,-14.5],[-9,-21,-20,-18.5,-18,-7,23,26],[-9.5,-21,-18,-5,23,20],[-10,-18,-17,-14.5,-10.5],
 [-10.5,-16.5,-14.5,-13.5,-8.5,-8],[-11,-18,-16,-8,24.5],[-11.5,-21,-16],[-12,-16],[-12.5,-21,-18,-9.5],[-13,-19,-13,-12.5,19.5,22.5],[-13.5,19.5],[-14,-20.5,-17.5],[-15,-15,-14.5,21.5,23.5],[-15.5,-16],[-16,22.5],[-16.5,-23.5,-20,-15,15,19,21,23.5,25],[-17,16.5,17],[-17.5,24.5],
 [-18,-25.5,-19,19],[-18.5,20],[-19,18,22.5,25,25.5,13,30],[-19.5,20.5,23.5,26,29,12],[-20,-39,-25,-24.5,12.5],[-20.5,12],[-21,-29.5,11.5,13,-2,18,23.5],[-22,-21.5,23,23.5]
];
const weatherYellow = [
 [10.5,-6],[9.5,-5,25],[8,16,22],[7.5,12],[6.5,13.5],[6,11,11.5,15.5],[5.5,7],[5,13,15],[4.5,7],[4,5.5,9],[3.5,5.5,13.5],[3,5.5],[2.5,6,-1],[2,5.5,7,7.5],[1,6,-.5],[0,8.5],[-.5,7],[-1,14.5],[-2,-.5],[-2.5,-7,-5,7.5],[-3,2.5,-2.5],[-3.5,5,-3],[-4,5.5,2],
 [-4.5,-9.5,-6,-5,-2],[-5,0,-4],[-5.5,3.5,6,7],[-6,-6.5],[-6.5,3.5,6,-1.5],[-7,-39.5,-5.5,-5,-3.5],[-7.5,6.5,-1],[-8.5,-6.5,0],[-9.5,0],[-10,-38.5,-38],[-11,-3],[-12,-5],[-20,8.5]
];
const weatherBlue = [
 [13.5,-11.5],[12,-12],[11.5,-12],[11,-14.5],[10.5,-15.5,-7,-3.5,25.5],[10,-15,-7,-3],[9.5,-18,-4.5],[9,-13.5,-5.5],[8.5,-13.5,-12,-6.5,-2],[7.5,-16.5,-14,-11.5,-11,-9,1,-4],[7,-8.5,-7.5],[6.5,-18.5,-15],[6,-11],[5.5,-17.5,-8.5,-6.5],[5,-11.5,-3,-3.5,1],
 [4.5,-15.5,-14.5,-4,-4.5],[4,-14,-11],[3.5,-16.5,-13.5,-13],[3,-21,-18.5,-17,-15.5],[2.5,-13.5,-9,-4],[2,-23,-13,-10],[1.5,-8],[1,-16,-15.5,-10.5],[.5,-24.5,-20.5,-19.5,-17.5],[0,-10.5,-7.5],[-.5,-21,-18.5],[-1,-23.5],[-2.5,-16.5,-12],[-5.5,-15]
];

const cloudLabels = [
 ["hi-top thick", "hi-top medium", "low-top thick", "low-top thin"],
 ["nimbostratus", "thick altostratus", "stratus", "cumulus/stratocumulus"],
 ["heavy rain", "light rain", "fog", "heavy snow"]
];
const cloudLabelWidths = [[99, 122, 109, 100], [104, 133, 56, 188], [83, 74, 23, 89]];
const cellColors = ["#ed1c24", "#00a651", "#fff200", "#0a9be0"];
const latTicks = [15, 10, 5, 0, -5, -10, -15, -20];
const lonTicks = [-40, -35, -30, -25, -20, -15, -10, -5, 0, 5, 10, 15, 20, 25, 30];

const svg = d3.select("#chart");
const refSpeed = d3.scaleLinear().domain([0, 5]).range([0, 52]);

// expand rows of lons and lon spans into single cells
function expandCells(rows) {
    const out = [];
    rows.forEach(row => {
        row.slice(1).forEach(item => {
            const span = Array.isArray(item) ? item : [item, item];
            for (let lon = span[0]; lon <= span[1]; lon += 0.5) out.push([lon, row[0]]);
        });
    });
    return out;
}

const wind = [];
windRows.forEach(row => row.slice(1).forEach(v => wind.push({lon: v[0], lat: row[0], u: v[1], v: v[2]})));

function arrowPath(x0, y0, dx, dy, head) {
    const a = Math.atan2(dy, dx), x1 = x0 + dx, y1 = y0 + dy;
    return "M" + x0 + "," + y0 + "L" + x1 + "," + y1 +
        "M" + (x1 - head * Math.cos(a - 0.45)) + "," + (y1 - head * Math.sin(a - 0.45)) + "L" + x1 + "," + y1 +
        "L" + (x1 - head * Math.cos(a + 0.45)) + "," + (y1 - head * Math.sin(a + 0.45));
}

function drawPanel(p) {
    const lon = d3.scaleLinear().domain([-40, 30]).range(p.lonRange);
    const lat = d3.scaleLinear().domain([15, -20]).range(p.latRange);
    const g = svg.append("g");

    g.append("clipPath").attr("id", "clip" + p.id).append("rect")
        .attr("x", p.left).attr("y", p.top).attr("width", p.right - p.left).attr("height", p.bottom - p.top);
    g.append("rect").attr("x", p.left).attr("y", p.top).attr("width", p.right - p.left).attr("height", p.bottom - p.top)
        .attr("fill", "#000").attr("stroke", "#777").attr("stroke-width", 1);

    const inner = g.append("g").attr("clip-path", "url(#clip" + p.id + ")");

    p.cells.forEach((rows, i) => {
        inner.append("g").selectAll("rect").data(expandCells(rows)).enter().append("rect")
            .attr("x", d => lon(d[0] - 0.25))
            .attr("y", d => lat(d[1] + 0.25))
            .attr("width", d => lon(d[0] + 0.25) - lon(d[0] - 0.25))
            .attr("height", d => lat(d[1] - 0.25) - lat(d[1] + 0.25))
            .attr("fill", cellColors[i]);
    });

    if (p.showWind) {
        inner.append("g").selectAll("path").data(wind).enter().append("path")
            .attr("d", d => arrowPath(lon(d.lon), lat(d.lat), refSpeed(d.u), -refSpeed(d.v), 6))
            .attr("fill", "none").attr("stroke", "#f2f2f2").attr("stroke-width", 1.15);
    }

    const line = d3.line().x(d => lon(d[0])).y(d => lat(d[1])).curve(d3.curveCatmullRom.alpha(0.5));
    const contourLayer = (list, width, dash) => inner.append("g").selectAll("path").data(list).enter().append("path")
        .attr("d", line).attr("fill", "none").attr("stroke", "#fff")
        .attr("stroke-width", width).attr("stroke-dasharray", dash);
    contourLayer(p.dashed, 1.2, "4,2.5");
    contourLayer(p.thin, 1.3, null);
    contourLayer(p.thick, 2.2, null);

    const yAxis = d3.axisLeft(lat).tickValues(latTicks).tickSize(4).tickPadding(5);
    const yg = g.append("g").attr("transform", "translate(" + p.left + ",0)").call(yAxis);
    yg.select(".domain").remove();
    yg.selectAll("text").attr("class", "tick-label");
    yg.selectAll("line").attr("stroke", "#111");

    if (p.showLon) {
        const xAxis = d3.axisBottom(lon).tickValues(lonTicks).tickSize(3).tickPadding(8);
        const xg = g.append("g").attr("transform", "translate(0," + p.bottom + ")").call(xAxis);
        xg.select(".domain").remove();
        xg.selectAll("text").attr("class", "tick-label");
        xg.selectAll("line").attr("stroke", "#111");
    }

    g.append("text").attr("class", "heading").attr("x", p.titleX).attr("y", p.titleY)
        .attr("font-size", 23).attr("textLength", p.titleW).attr("lengthAdjust", "spacingAndGlyphs").text(p.title);

    cloudLabels[p.index].forEach((label, i) => {
        const y = p.legendY + i * 59;
        g.append("rect").attr("x", p.legendX).attr("y", y).attr("width", 20).attr("height", 39).attr("rx", 2)
            .attr("fill", cellColors[i]).attr("stroke", "#111").attr("stroke-width", 2);
        const t = g.append("text").attr("class", "legend-text").text(label);
        // squeeze the mono face to the narrow width of the printed labels
        const sx = cloudLabelWidths[p.index][i] / t.node().getComputedTextLength();
        t.attr("transform", "translate(" + (p.legendX + 25) + "," + (y + 29) + ") scale(" + sx + ",1)");
    });
}

[
    {id: "a", index: 0, left: 102, right: 820, top: 66, bottom: 449, lonRange: [103, 820], latRange: [89, 423],
     cells: [isccpRed, isccpGreen, isccpYellow, isccpBlue], showWind: true, showLon: false,
     thick: upperThick, thin: upperThin, dashed: upperDashed,
     title: "a) ISCCP", titleX: 111, titleY: 60, titleW: 100, legendX: 858, legendY: 151},
    {id: "b", index: 1, left: 98, right: 819, top: 501, bottom: 884, lonRange: [101.5, 818], latRange: [523, 857],
     cells: [cloudRed, cloudGreen, cloudYellow, cloudBlue], showWind: true, showLon: false,
     thick: upperThick, thin: upperThin, dashed: upperDashed,
     title: "b) SURFACE OBS - CLOUDS", titleX: 110, titleY: 493, titleW: 314, legendX: 856, legendY: 585},
    {id: "c", index: 2, left: 98, right: 817, top: 935, bottom: 1316, lonRange: [98, 815], latRange: [958, 1291],
     cells: [weatherRed, weatherGreen, weatherYellow, weatherBlue], showWind: false, showLon: true,
     thick: weatherThick, thin: weatherThin, dashed: weatherDashed,
     title: "c) SURFACE OBS - WEATHER", titleX: 106, titleY: 926, titleW: 335, legendX: 855, legendY: 1019}
].forEach(drawPanel);

svg.append("text").attr("class", "heading").attr("x", 493).attr("y", 32).attr("text-anchor", "middle")
    .attr("font-size", 31).attr("textLength", 293).attr("lengthAdjust", "spacingAndGlyphs").text("NORTH ATLANTIC");

// reference vector
svg.append("path").attr("d", arrowPath(765, 33, refSpeed(5), 0, 13)).attr("fill", "none").attr("stroke", "#111").attr("stroke-width", 1.3);
const unit = svg.append("text").attr("class", "heading").attr("x", 760).attr("y", 63).attr("font-size", 23);
unit.append("tspan").text("5 ms");
unit.append("tspan").attr("font-size", 15).attr("dy", -9).text("-1");

const axisTitle = (sel, before, after) => {
    sel.append("tspan").text(before);
    sel.append("tspan").attr("font-size", 17).attr("dy", -8).text("0");
    sel.append("tspan").attr("dy", 8).text(after);
};
axisTitle(svg.append("text").attr("class", "heading").attr("x", 461).attr("y", 1384).attr("text-anchor", "middle")
    .attr("font-size", 28).attr("textLength", 306).attr("lengthAdjust", "spacingAndGlyphs"), "Longitude (", ") from origin");
axisTitle(svg.append("text").attr("class", "heading").attr("transform", "translate(33,695) rotate(-90)").attr("text-anchor", "middle")
    .attr("font-size", 27).attr("textLength", 284).attr("lengthAdjust", "spacingAndGlyphs"), "Latitude (", ") from origin");
</script>
</body>
</html>
